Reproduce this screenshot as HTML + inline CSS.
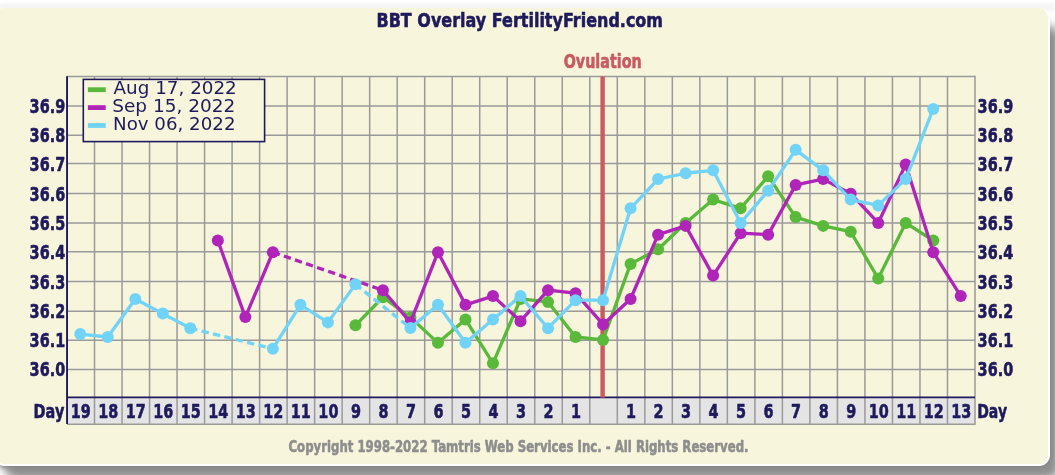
<!DOCTYPE html>
<html><head><meta charset="utf-8"><title>BBT Overlay FertilityFriend.com</title>
<style>
html,body{margin:0;padding:0;}
body{width:1055px;height:475px;overflow:hidden;position:relative;background:#ffffff;}
.topband{position:absolute;left:0;top:2.5px;width:1055px;height:8px;background:#f6f6f6;filter:blur(1px);}
.shadow{position:absolute;left:4px;top:25px;width:1056px;height:455px;border-radius:14px;background:#909090;filter:blur(5px);}
.shadow2{position:absolute;left:-6px;top:32px;width:1057px;height:435.5px;border-radius:12px;background:#868686;filter:blur(2px);}
.panel{position:absolute;box-sizing:border-box;left:-7px;top:7.8px;width:1057px;height:458.4px;border-radius:11px;background:#f7f5dc;border:2px solid #ffffff;border-top:0;}
</style></head>
<body>
<div class="topband"></div>
<div class="shadow"></div>
<div class="shadow2"></div>
<div class="panel"></div>
<svg width="1055" height="475" viewBox="0 0 1055 475" style="position:absolute;left:0;top:0">
<text x="376.5" y="26.6" font-family="DejaVu Sans, sans-serif" font-weight="bold" stroke-width="0.6" stroke-linejoin="round" font-size="19.8" fill="#1e1a5c" stroke="#1e1a5c" textLength="286.5" lengthAdjust="spacingAndGlyphs">BBT Overlay FertilityFriend.com</text>
<text x="563.7" y="68.1" font-family="DejaVu Sans, sans-serif" font-weight="bold" stroke-width="0.6" stroke-linejoin="round" font-size="19" fill="#c85a60" stroke="#c85a60" textLength="78" lengthAdjust="spacingAndGlyphs">Ovulation</text>
<line x1="94.52" y1="76.4" x2="94.52" y2="397.4" stroke="#9a9a9a" stroke-width="1.5"/>
<line x1="122.03" y1="76.4" x2="122.03" y2="397.4" stroke="#9a9a9a" stroke-width="1.5"/>
<line x1="149.55" y1="76.4" x2="149.55" y2="397.4" stroke="#9a9a9a" stroke-width="1.5"/>
<line x1="177.06" y1="76.4" x2="177.06" y2="397.4" stroke="#9a9a9a" stroke-width="1.5"/>
<line x1="204.58" y1="76.4" x2="204.58" y2="397.4" stroke="#9a9a9a" stroke-width="1.5"/>
<line x1="232.09" y1="76.4" x2="232.09" y2="397.4" stroke="#9a9a9a" stroke-width="1.5"/>
<line x1="259.61" y1="76.4" x2="259.61" y2="397.4" stroke="#9a9a9a" stroke-width="1.5"/>
<line x1="287.12" y1="76.4" x2="287.12" y2="397.4" stroke="#9a9a9a" stroke-width="1.5"/>
<line x1="314.64" y1="76.4" x2="314.64" y2="397.4" stroke="#9a9a9a" stroke-width="1.5"/>
<line x1="342.15" y1="76.4" x2="342.15" y2="397.4" stroke="#9a9a9a" stroke-width="1.5"/>
<line x1="369.67" y1="76.4" x2="369.67" y2="397.4" stroke="#9a9a9a" stroke-width="1.5"/>
<line x1="397.18" y1="76.4" x2="397.18" y2="397.4" stroke="#9a9a9a" stroke-width="1.5"/>
<line x1="424.70" y1="76.4" x2="424.70" y2="397.4" stroke="#9a9a9a" stroke-width="1.5"/>
<line x1="452.21" y1="76.4" x2="452.21" y2="397.4" stroke="#9a9a9a" stroke-width="1.5"/>
<line x1="479.73" y1="76.4" x2="479.73" y2="397.4" stroke="#9a9a9a" stroke-width="1.5"/>
<line x1="507.24" y1="76.4" x2="507.24" y2="397.4" stroke="#9a9a9a" stroke-width="1.5"/>
<line x1="534.76" y1="76.4" x2="534.76" y2="397.4" stroke="#9a9a9a" stroke-width="1.5"/>
<line x1="562.27" y1="76.4" x2="562.27" y2="397.4" stroke="#9a9a9a" stroke-width="1.5"/>
<line x1="589.79" y1="76.4" x2="589.79" y2="397.4" stroke="#9a9a9a" stroke-width="1.5"/>
<line x1="617.30" y1="76.4" x2="617.30" y2="397.4" stroke="#9a9a9a" stroke-width="1.5"/>
<line x1="644.82" y1="76.4" x2="644.82" y2="397.4" stroke="#9a9a9a" stroke-width="1.5"/>
<line x1="672.33" y1="76.4" x2="672.33" y2="397.4" stroke="#9a9a9a" stroke-width="1.5"/>
<line x1="699.85" y1="76.4" x2="699.85" y2="397.4" stroke="#9a9a9a" stroke-width="1.5"/>
<line x1="727.36" y1="76.4" x2="727.36" y2="397.4" stroke="#9a9a9a" stroke-width="1.5"/>
<line x1="754.88" y1="76.4" x2="754.88" y2="397.4" stroke="#9a9a9a" stroke-width="1.5"/>
<line x1="782.39" y1="76.4" x2="782.39" y2="397.4" stroke="#9a9a9a" stroke-width="1.5"/>
<line x1="809.91" y1="76.4" x2="809.91" y2="397.4" stroke="#9a9a9a" stroke-width="1.5"/>
<line x1="837.42" y1="76.4" x2="837.42" y2="397.4" stroke="#9a9a9a" stroke-width="1.5"/>
<line x1="864.94" y1="76.4" x2="864.94" y2="397.4" stroke="#9a9a9a" stroke-width="1.5"/>
<line x1="892.45" y1="76.4" x2="892.45" y2="397.4" stroke="#9a9a9a" stroke-width="1.5"/>
<line x1="919.97" y1="76.4" x2="919.97" y2="397.4" stroke="#9a9a9a" stroke-width="1.5"/>
<line x1="947.48" y1="76.4" x2="947.48" y2="397.4" stroke="#9a9a9a" stroke-width="1.5"/>
<line x1="67.0" y1="76.40" x2="975.0" y2="76.40" stroke="#9a9a9a" stroke-width="1.5"/>
<line x1="67.0" y1="105.90" x2="975.0" y2="105.90" stroke="#9a9a9a" stroke-width="1.5"/>
<line x1="67.0" y1="135.30" x2="975.0" y2="135.30" stroke="#9a9a9a" stroke-width="1.5"/>
<line x1="67.0" y1="163.60" x2="975.0" y2="163.60" stroke="#9a9a9a" stroke-width="1.5"/>
<line x1="67.0" y1="193.60" x2="975.0" y2="193.60" stroke="#9a9a9a" stroke-width="1.5"/>
<line x1="67.0" y1="223.05" x2="975.0" y2="223.05" stroke="#9a9a9a" stroke-width="1.5"/>
<line x1="67.0" y1="251.80" x2="975.0" y2="251.80" stroke="#9a9a9a" stroke-width="1.5"/>
<line x1="67.0" y1="281.50" x2="975.0" y2="281.50" stroke="#9a9a9a" stroke-width="1.5"/>
<line x1="67.0" y1="311.20" x2="975.0" y2="311.20" stroke="#9a9a9a" stroke-width="1.5"/>
<line x1="67.0" y1="340.30" x2="975.0" y2="340.30" stroke="#9a9a9a" stroke-width="1.5"/>
<line x1="67.0" y1="369.40" x2="975.0" y2="369.40" stroke="#9a9a9a" stroke-width="1.5"/>
<rect x="67.0" y="397.4" width="908.0" height="26.900000000000034" fill="#e4e4e4"/>
<line x1="94.52" y1="397.4" x2="94.52" y2="424.6" stroke="#9a9a9a" stroke-width="1.5"/>
<line x1="122.03" y1="397.4" x2="122.03" y2="424.6" stroke="#9a9a9a" stroke-width="1.5"/>
<line x1="149.55" y1="397.4" x2="149.55" y2="424.6" stroke="#9a9a9a" stroke-width="1.5"/>
<line x1="177.06" y1="397.4" x2="177.06" y2="424.6" stroke="#9a9a9a" stroke-width="1.5"/>
<line x1="204.58" y1="397.4" x2="204.58" y2="424.6" stroke="#9a9a9a" stroke-width="1.5"/>
<line x1="232.09" y1="397.4" x2="232.09" y2="424.6" stroke="#9a9a9a" stroke-width="1.5"/>
<line x1="259.61" y1="397.4" x2="259.61" y2="424.6" stroke="#9a9a9a" stroke-width="1.5"/>
<line x1="287.12" y1="397.4" x2="287.12" y2="424.6" stroke="#9a9a9a" stroke-width="1.5"/>
<line x1="314.64" y1="397.4" x2="314.64" y2="424.6" stroke="#9a9a9a" stroke-width="1.5"/>
<line x1="342.15" y1="397.4" x2="342.15" y2="424.6" stroke="#9a9a9a" stroke-width="1.5"/>
<line x1="369.67" y1="397.4" x2="369.67" y2="424.6" stroke="#9a9a9a" stroke-width="1.5"/>
<line x1="397.18" y1="397.4" x2="397.18" y2="424.6" stroke="#9a9a9a" stroke-width="1.5"/>
<line x1="424.70" y1="397.4" x2="424.70" y2="424.6" stroke="#9a9a9a" stroke-width="1.5"/>
<line x1="452.21" y1="397.4" x2="452.21" y2="424.6" stroke="#9a9a9a" stroke-width="1.5"/>
<line x1="479.73" y1="397.4" x2="479.73" y2="424.6" stroke="#9a9a9a" stroke-width="1.5"/>
<line x1="507.24" y1="397.4" x2="507.24" y2="424.6" stroke="#9a9a9a" stroke-width="1.5"/>
<line x1="534.76" y1="397.4" x2="534.76" y2="424.6" stroke="#9a9a9a" stroke-width="1.5"/>
<line x1="562.27" y1="397.4" x2="562.27" y2="424.6" stroke="#9a9a9a" stroke-width="1.5"/>
<line x1="589.79" y1="397.4" x2="589.79" y2="424.6" stroke="#9a9a9a" stroke-width="1.5"/>
<line x1="617.30" y1="397.4" x2="617.30" y2="424.6" stroke="#9a9a9a" stroke-width="1.5"/>
<line x1="644.82" y1="397.4" x2="644.82" y2="424.6" stroke="#9a9a9a" stroke-width="1.5"/>
<line x1="672.33" y1="397.4" x2="672.33" y2="424.6" stroke="#9a9a9a" stroke-width="1.5"/>
<line x1="699.85" y1="397.4" x2="699.85" y2="424.6" stroke="#9a9a9a" stroke-width="1.5"/>
<line x1="727.36" y1="397.4" x2="727.36" y2="424.6" stroke="#9a9a9a" stroke-width="1.5"/>
<line x1="754.88" y1="397.4" x2="754.88" y2="424.6" stroke="#9a9a9a" stroke-width="1.5"/>
<line x1="782.39" y1="397.4" x2="782.39" y2="424.6" stroke="#9a9a9a" stroke-width="1.5"/>
<line x1="809.91" y1="397.4" x2="809.91" y2="424.6" stroke="#9a9a9a" stroke-width="1.5"/>
<line x1="837.42" y1="397.4" x2="837.42" y2="424.6" stroke="#9a9a9a" stroke-width="1.5"/>
<line x1="864.94" y1="397.4" x2="864.94" y2="424.6" stroke="#9a9a9a" stroke-width="1.5"/>
<line x1="892.45" y1="397.4" x2="892.45" y2="424.6" stroke="#9a9a9a" stroke-width="1.5"/>
<line x1="919.97" y1="397.4" x2="919.97" y2="424.6" stroke="#9a9a9a" stroke-width="1.5"/>
<line x1="947.48" y1="397.4" x2="947.48" y2="424.6" stroke="#9a9a9a" stroke-width="1.5"/>
<line x1="67.0" y1="424.3" x2="975.0" y2="424.3" stroke="#9a9a9a" stroke-width="1.4"/>
<line x1="975.0" y1="75.7" x2="975.0" y2="425" stroke="#9a9a9a" stroke-width="1.5"/>
<line x1="67.0" y1="397.4" x2="975.0" y2="397.4" stroke="#1e1a5c" stroke-width="1.6"/>
<line x1="67.05" y1="76.2" x2="67.05" y2="423.9" stroke="#1e1a5c" stroke-width="1.9"/>
<text x="80.76" y="417.7" text-anchor="middle" font-family="DejaVu Sans, sans-serif" font-weight="bold" stroke-width="0.6" stroke-linejoin="round" font-size="19.5" fill="#1e1a5c" stroke="#1e1a5c" transform-origin="80.76 417.7" transform="scale(0.74,1)">19</text>
<text x="108.27" y="417.7" text-anchor="middle" font-family="DejaVu Sans, sans-serif" font-weight="bold" stroke-width="0.6" stroke-linejoin="round" font-size="19.5" fill="#1e1a5c" stroke="#1e1a5c" transform-origin="108.27 417.7" transform="scale(0.74,1)">18</text>
<text x="135.79" y="417.7" text-anchor="middle" font-family="DejaVu Sans, sans-serif" font-weight="bold" stroke-width="0.6" stroke-linejoin="round" font-size="19.5" fill="#1e1a5c" stroke="#1e1a5c" transform-origin="135.79 417.7" transform="scale(0.74,1)">17</text>
<text x="163.30" y="417.7" text-anchor="middle" font-family="DejaVu Sans, sans-serif" font-weight="bold" stroke-width="0.6" stroke-linejoin="round" font-size="19.5" fill="#1e1a5c" stroke="#1e1a5c" transform-origin="163.30 417.7" transform="scale(0.74,1)">16</text>
<text x="190.82" y="417.7" text-anchor="middle" font-family="DejaVu Sans, sans-serif" font-weight="bold" stroke-width="0.6" stroke-linejoin="round" font-size="19.5" fill="#1e1a5c" stroke="#1e1a5c" transform-origin="190.82 417.7" transform="scale(0.74,1)">15</text>
<text x="218.33" y="417.7" text-anchor="middle" font-family="DejaVu Sans, sans-serif" font-weight="bold" stroke-width="0.6" stroke-linejoin="round" font-size="19.5" fill="#1e1a5c" stroke="#1e1a5c" transform-origin="218.33 417.7" transform="scale(0.74,1)">14</text>
<text x="245.85" y="417.7" text-anchor="middle" font-family="DejaVu Sans, sans-serif" font-weight="bold" stroke-width="0.6" stroke-linejoin="round" font-size="19.5" fill="#1e1a5c" stroke="#1e1a5c" transform-origin="245.85 417.7" transform="scale(0.74,1)">13</text>
<text x="273.36" y="417.7" text-anchor="middle" font-family="DejaVu Sans, sans-serif" font-weight="bold" stroke-width="0.6" stroke-linejoin="round" font-size="19.5" fill="#1e1a5c" stroke="#1e1a5c" transform-origin="273.36 417.7" transform="scale(0.74,1)">12</text>
<text x="300.88" y="417.7" text-anchor="middle" font-family="DejaVu Sans, sans-serif" font-weight="bold" stroke-width="0.6" stroke-linejoin="round" font-size="19.5" fill="#1e1a5c" stroke="#1e1a5c" transform-origin="300.88 417.7" transform="scale(0.74,1)">11</text>
<text x="328.39" y="417.7" text-anchor="middle" font-family="DejaVu Sans, sans-serif" font-weight="bold" stroke-width="0.6" stroke-linejoin="round" font-size="19.5" fill="#1e1a5c" stroke="#1e1a5c" transform-origin="328.39 417.7" transform="scale(0.74,1)">10</text>
<text x="355.91" y="417.7" text-anchor="middle" font-family="DejaVu Sans, sans-serif" font-weight="bold" stroke-width="0.6" stroke-linejoin="round" font-size="19.5" fill="#1e1a5c" stroke="#1e1a5c" transform-origin="355.91 417.7" transform="scale(0.74,1)">9</text>
<text x="383.42" y="417.7" text-anchor="middle" font-family="DejaVu Sans, sans-serif" font-weight="bold" stroke-width="0.6" stroke-linejoin="round" font-size="19.5" fill="#1e1a5c" stroke="#1e1a5c" transform-origin="383.42 417.7" transform="scale(0.74,1)">8</text>
<text x="410.94" y="417.7" text-anchor="middle" font-family="DejaVu Sans, sans-serif" font-weight="bold" stroke-width="0.6" stroke-linejoin="round" font-size="19.5" fill="#1e1a5c" stroke="#1e1a5c" transform-origin="410.94 417.7" transform="scale(0.74,1)">7</text>
<text x="438.45" y="417.7" text-anchor="middle" font-family="DejaVu Sans, sans-serif" font-weight="bold" stroke-width="0.6" stroke-linejoin="round" font-size="19.5" fill="#1e1a5c" stroke="#1e1a5c" transform-origin="438.45 417.7" transform="scale(0.74,1)">6</text>
<text x="465.97" y="417.7" text-anchor="middle" font-family="DejaVu Sans, sans-serif" font-weight="bold" stroke-width="0.6" stroke-linejoin="round" font-size="19.5" fill="#1e1a5c" stroke="#1e1a5c" transform-origin="465.97 417.7" transform="scale(0.74,1)">5</text>
<text x="493.48" y="417.7" text-anchor="middle" font-family="DejaVu Sans, sans-serif" font-weight="bold" stroke-width="0.6" stroke-linejoin="round" font-size="19.5" fill="#1e1a5c" stroke="#1e1a5c" transform-origin="493.48 417.7" transform="scale(0.74,1)">4</text>
<text x="521.00" y="417.7" text-anchor="middle" font-family="DejaVu Sans, sans-serif" font-weight="bold" stroke-width="0.6" stroke-linejoin="round" font-size="19.5" fill="#1e1a5c" stroke="#1e1a5c" transform-origin="521.00 417.7" transform="scale(0.74,1)">3</text>
<text x="548.52" y="417.7" text-anchor="middle" font-family="DejaVu Sans, sans-serif" font-weight="bold" stroke-width="0.6" stroke-linejoin="round" font-size="19.5" fill="#1e1a5c" stroke="#1e1a5c" transform-origin="548.52 417.7" transform="scale(0.74,1)">2</text>
<text x="576.03" y="417.7" text-anchor="middle" font-family="DejaVu Sans, sans-serif" font-weight="bold" stroke-width="0.6" stroke-linejoin="round" font-size="19.5" fill="#1e1a5c" stroke="#1e1a5c" transform-origin="576.03 417.7" transform="scale(0.74,1)">1</text>
<text x="631.06" y="417.7" text-anchor="middle" font-family="DejaVu Sans, sans-serif" font-weight="bold" stroke-width="0.6" stroke-linejoin="round" font-size="19.5" fill="#1e1a5c" stroke="#1e1a5c" transform-origin="631.06 417.7" transform="scale(0.74,1)">1</text>
<text x="658.58" y="417.7" text-anchor="middle" font-family="DejaVu Sans, sans-serif" font-weight="bold" stroke-width="0.6" stroke-linejoin="round" font-size="19.5" fill="#1e1a5c" stroke="#1e1a5c" transform-origin="658.58 417.7" transform="scale(0.74,1)">2</text>
<text x="686.09" y="417.7" text-anchor="middle" font-family="DejaVu Sans, sans-serif" font-weight="bold" stroke-width="0.6" stroke-linejoin="round" font-size="19.5" fill="#1e1a5c" stroke="#1e1a5c" transform-origin="686.09 417.7" transform="scale(0.74,1)">3</text>
<text x="713.61" y="417.7" text-anchor="middle" font-family="DejaVu Sans, sans-serif" font-weight="bold" stroke-width="0.6" stroke-linejoin="round" font-size="19.5" fill="#1e1a5c" stroke="#1e1a5c" transform-origin="713.61 417.7" transform="scale(0.74,1)">4</text>
<text x="741.12" y="417.7" text-anchor="middle" font-family="DejaVu Sans, sans-serif" font-weight="bold" stroke-width="0.6" stroke-linejoin="round" font-size="19.5" fill="#1e1a5c" stroke="#1e1a5c" transform-origin="741.12 417.7" transform="scale(0.74,1)">5</text>
<text x="768.64" y="417.7" text-anchor="middle" font-family="DejaVu Sans, sans-serif" font-weight="bold" stroke-width="0.6" stroke-linejoin="round" font-size="19.5" fill="#1e1a5c" stroke="#1e1a5c" transform-origin="768.64 417.7" transform="scale(0.74,1)">6</text>
<text x="796.15" y="417.7" text-anchor="middle" font-family="DejaVu Sans, sans-serif" font-weight="bold" stroke-width="0.6" stroke-linejoin="round" font-size="19.5" fill="#1e1a5c" stroke="#1e1a5c" transform-origin="796.15 417.7" transform="scale(0.74,1)">7</text>
<text x="823.67" y="417.7" text-anchor="middle" font-family="DejaVu Sans, sans-serif" font-weight="bold" stroke-width="0.6" stroke-linejoin="round" font-size="19.5" fill="#1e1a5c" stroke="#1e1a5c" transform-origin="823.67 417.7" transform="scale(0.74,1)">8</text>
<text x="851.18" y="417.7" text-anchor="middle" font-family="DejaVu Sans, sans-serif" font-weight="bold" stroke-width="0.6" stroke-linejoin="round" font-size="19.5" fill="#1e1a5c" stroke="#1e1a5c" transform-origin="851.18 417.7" transform="scale(0.74,1)">9</text>
<text x="878.70" y="417.7" text-anchor="middle" font-family="DejaVu Sans, sans-serif" font-weight="bold" stroke-width="0.6" stroke-linejoin="round" font-size="19.5" fill="#1e1a5c" stroke="#1e1a5c" transform-origin="878.70 417.7" transform="scale(0.74,1)">10</text>
<text x="906.21" y="417.7" text-anchor="middle" font-family="DejaVu Sans, sans-serif" font-weight="bold" stroke-width="0.6" stroke-linejoin="round" font-size="19.5" fill="#1e1a5c" stroke="#1e1a5c" transform-origin="906.21 417.7" transform="scale(0.74,1)">11</text>
<text x="933.73" y="417.7" text-anchor="middle" font-family="DejaVu Sans, sans-serif" font-weight="bold" stroke-width="0.6" stroke-linejoin="round" font-size="19.5" fill="#1e1a5c" stroke="#1e1a5c" transform-origin="933.73 417.7" transform="scale(0.74,1)">12</text>
<text x="961.24" y="417.7" text-anchor="middle" font-family="DejaVu Sans, sans-serif" font-weight="bold" stroke-width="0.6" stroke-linejoin="round" font-size="19.5" fill="#1e1a5c" stroke="#1e1a5c" transform-origin="961.24 417.7" transform="scale(0.74,1)">13</text>
<line x1="602.6" y1="76.4" x2="602.6" y2="397.4" stroke="#c85a60" stroke-width="4.4"/>
<rect x="83.3" y="79.4" width="181.3" height="62.2" fill="#f7f5dc" stroke="#1e1a5c" stroke-width="1.6"/>
<rect x="87.9" y="87.30" width="17.8" height="4.8" fill="#58b93a"/>
<text x="113.5" y="93.9" font-family="DejaVu Sans, sans-serif" font-size="17.5" fill="#1e1a5c" textLength="123.3" lengthAdjust="spacingAndGlyphs">Aug 17, 2022</text>
<rect x="87.9" y="105.20" width="17.8" height="4.8" fill="#b024b9"/>
<text x="112.2" y="112.0" font-family="DejaVu Sans, sans-serif" font-size="17.5" fill="#1e1a5c" textLength="123.0" lengthAdjust="spacingAndGlyphs">Sep 15, 2022</text>
<rect x="87.9" y="123.10" width="17.8" height="4.8" fill="#72d3f8"/>
<text x="113.0" y="129.6" font-family="DejaVu Sans, sans-serif" font-size="17.5" fill="#1e1a5c" textLength="122.5" lengthAdjust="spacingAndGlyphs">Nov 06, 2022</text>
<polyline points="355.41,325.30 382.92,297.23 410.44,317.41 437.95,342.84 465.47,319.45 492.98,363.31 520.50,298.98 548.02,301.91 575.53,337.00 603.05,339.92 630.56,263.90 658.08,249.28 685.59,222.96 713.11,199.57 740.62,208.34 768.14,176.18 795.65,217.11 823.17,225.88 850.68,231.73 878.20,278.52 905.71,222.96 933.23,240.50" fill="none" stroke="#58b93a" stroke-width="3.3" stroke-linejoin="round" stroke-linecap="round"/>
<circle cx="355.41" cy="325.30" r="6.0" fill="#58b93a"/>
<circle cx="382.92" cy="297.23" r="6.0" fill="#58b93a"/>
<circle cx="410.44" cy="317.41" r="6.0" fill="#58b93a"/>
<circle cx="437.95" cy="342.84" r="6.0" fill="#58b93a"/>
<circle cx="465.47" cy="319.45" r="6.0" fill="#58b93a"/>
<circle cx="492.98" cy="363.31" r="6.0" fill="#58b93a"/>
<circle cx="520.50" cy="298.98" r="6.0" fill="#58b93a"/>
<circle cx="548.02" cy="301.91" r="6.0" fill="#58b93a"/>
<circle cx="575.53" cy="337.00" r="6.0" fill="#58b93a"/>
<circle cx="603.05" cy="339.92" r="6.0" fill="#58b93a"/>
<circle cx="630.56" cy="263.90" r="6.0" fill="#58b93a"/>
<circle cx="658.08" cy="249.28" r="6.0" fill="#58b93a"/>
<circle cx="685.59" cy="222.96" r="6.0" fill="#58b93a"/>
<circle cx="713.11" cy="199.57" r="6.0" fill="#58b93a"/>
<circle cx="740.62" cy="208.34" r="6.0" fill="#58b93a"/>
<circle cx="768.14" cy="176.18" r="6.0" fill="#58b93a"/>
<circle cx="795.65" cy="217.11" r="6.0" fill="#58b93a"/>
<circle cx="823.17" cy="225.88" r="6.0" fill="#58b93a"/>
<circle cx="850.68" cy="231.73" r="6.0" fill="#58b93a"/>
<circle cx="878.20" cy="278.52" r="6.0" fill="#58b93a"/>
<circle cx="905.71" cy="222.96" r="6.0" fill="#58b93a"/>
<circle cx="933.23" cy="240.50" r="6.0" fill="#58b93a"/>
<polyline points="217.83,240.50 245.35,317.11 272.86,252.20" fill="none" stroke="#b024b9" stroke-width="3.3" stroke-linejoin="round" stroke-linecap="round"/>
<polyline points="382.92,290.21 410.44,322.38 437.95,252.20 465.47,304.83 492.98,296.06 520.50,321.21 548.02,290.21 575.53,293.14 603.05,324.42 630.56,298.98 658.08,234.66 685.59,225.88 713.11,275.59 740.62,233.19 768.14,234.66 795.65,184.95 823.17,179.10 850.68,193.72 878.20,222.96 905.71,164.48 933.23,252.20 960.74,296.06" fill="none" stroke="#b024b9" stroke-width="3.3" stroke-linejoin="round" stroke-linecap="round"/>
<line x1="272.86" y1="252.20" x2="382.92" y2="290.21" stroke="#b024b9" stroke-width="3.3" stroke-dasharray="7.3,4.4"/>
<circle cx="217.83" cy="240.50" r="6.0" fill="#b024b9"/>
<circle cx="245.35" cy="317.11" r="6.0" fill="#b024b9"/>
<circle cx="272.86" cy="252.20" r="6.0" fill="#b024b9"/>
<circle cx="382.92" cy="290.21" r="6.0" fill="#b024b9"/>
<circle cx="410.44" cy="322.38" r="6.0" fill="#b024b9"/>
<circle cx="437.95" cy="252.20" r="6.0" fill="#b024b9"/>
<circle cx="465.47" cy="304.83" r="6.0" fill="#b024b9"/>
<circle cx="492.98" cy="296.06" r="6.0" fill="#b024b9"/>
<circle cx="520.50" cy="321.21" r="6.0" fill="#b024b9"/>
<circle cx="548.02" cy="290.21" r="6.0" fill="#b024b9"/>
<circle cx="575.53" cy="293.14" r="6.0" fill="#b024b9"/>
<circle cx="603.05" cy="324.42" r="6.0" fill="#b024b9"/>
<circle cx="630.56" cy="298.98" r="6.0" fill="#b024b9"/>
<circle cx="658.08" cy="234.66" r="6.0" fill="#b024b9"/>
<circle cx="685.59" cy="225.88" r="6.0" fill="#b024b9"/>
<circle cx="713.11" cy="275.59" r="6.0" fill="#b024b9"/>
<circle cx="740.62" cy="233.19" r="6.0" fill="#b024b9"/>
<circle cx="768.14" cy="234.66" r="6.0" fill="#b024b9"/>
<circle cx="795.65" cy="184.95" r="6.0" fill="#b024b9"/>
<circle cx="823.17" cy="179.10" r="6.0" fill="#b024b9"/>
<circle cx="850.68" cy="193.72" r="6.0" fill="#b024b9"/>
<circle cx="878.20" cy="222.96" r="6.0" fill="#b024b9"/>
<circle cx="905.71" cy="164.48" r="6.0" fill="#b024b9"/>
<circle cx="933.23" cy="252.20" r="6.0" fill="#b024b9"/>
<circle cx="960.74" cy="296.06" r="6.0" fill="#b024b9"/>
<polyline points="80.26,334.07 107.77,337.00 135.29,298.98 162.80,313.60 190.32,328.22" fill="none" stroke="#72d3f8" stroke-width="3.3" stroke-linejoin="round" stroke-linecap="round"/>
<polyline points="272.86,348.69 300.38,304.83 327.89,322.38 355.41,284.36" fill="none" stroke="#72d3f8" stroke-width="3.3" stroke-linejoin="round" stroke-linecap="round"/>
<polyline points="410.44,327.93 437.95,304.83 465.47,342.84 492.98,319.45 520.50,296.06 548.02,328.22 575.53,300.15 603.05,300.15 630.56,208.34 658.08,179.10 685.59,173.25 713.11,170.33 740.62,222.96 768.14,190.80 795.65,149.86 823.17,170.33 850.68,199.57 878.20,205.42 905.71,179.10 933.23,108.92" fill="none" stroke="#72d3f8" stroke-width="3.3" stroke-linejoin="round" stroke-linecap="round"/>
<line x1="190.32" y1="328.22" x2="272.86" y2="348.69" stroke="#72d3f8" stroke-width="3.3" stroke-dasharray="7.3,4.4"/>
<line x1="355.41" y1="284.36" x2="410.44" y2="327.93" stroke="#72d3f8" stroke-width="3.3" stroke-dasharray="7.3,4.4"/>
<circle cx="80.26" cy="334.07" r="6.0" fill="#72d3f8"/>
<circle cx="107.77" cy="337.00" r="6.0" fill="#72d3f8"/>
<circle cx="135.29" cy="298.98" r="6.0" fill="#72d3f8"/>
<circle cx="162.80" cy="313.60" r="6.0" fill="#72d3f8"/>
<circle cx="190.32" cy="328.22" r="6.0" fill="#72d3f8"/>
<circle cx="272.86" cy="348.69" r="6.0" fill="#72d3f8"/>
<circle cx="300.38" cy="304.83" r="6.0" fill="#72d3f8"/>
<circle cx="327.89" cy="322.38" r="6.0" fill="#72d3f8"/>
<circle cx="355.41" cy="284.36" r="6.0" fill="#72d3f8"/>
<circle cx="410.44" cy="327.93" r="6.0" fill="#72d3f8"/>
<circle cx="437.95" cy="304.83" r="6.0" fill="#72d3f8"/>
<circle cx="465.47" cy="342.84" r="6.0" fill="#72d3f8"/>
<circle cx="492.98" cy="319.45" r="6.0" fill="#72d3f8"/>
<circle cx="520.50" cy="296.06" r="6.0" fill="#72d3f8"/>
<circle cx="548.02" cy="328.22" r="6.0" fill="#72d3f8"/>
<circle cx="575.53" cy="300.15" r="6.0" fill="#72d3f8"/>
<circle cx="603.05" cy="300.15" r="6.0" fill="#72d3f8"/>
<circle cx="630.56" cy="208.34" r="6.0" fill="#72d3f8"/>
<circle cx="658.08" cy="179.10" r="6.0" fill="#72d3f8"/>
<circle cx="685.59" cy="173.25" r="6.0" fill="#72d3f8"/>
<circle cx="713.11" cy="170.33" r="6.0" fill="#72d3f8"/>
<circle cx="740.62" cy="222.96" r="6.0" fill="#72d3f8"/>
<circle cx="768.14" cy="190.80" r="6.0" fill="#72d3f8"/>
<circle cx="795.65" cy="149.86" r="6.0" fill="#72d3f8"/>
<circle cx="823.17" cy="170.33" r="6.0" fill="#72d3f8"/>
<circle cx="850.68" cy="199.57" r="6.0" fill="#72d3f8"/>
<circle cx="878.20" cy="205.42" r="6.0" fill="#72d3f8"/>
<circle cx="905.71" cy="179.10" r="6.0" fill="#72d3f8"/>
<circle cx="933.23" cy="108.92" r="6.0" fill="#72d3f8"/>
<text x="65.2" y="113.00" text-anchor="end" font-family="DejaVu Sans, sans-serif" font-weight="bold" stroke-width="0.6" stroke-linejoin="round" font-size="19.5" fill="#1e1a5c" stroke="#1e1a5c" transform-origin="65.2 113.00" transform="scale(0.74,1)">36.9</text>
<text x="977.6" y="113.00" font-family="DejaVu Sans, sans-serif" font-weight="bold" stroke-width="0.6" stroke-linejoin="round" font-size="19.5" fill="#1e1a5c" stroke="#1e1a5c" transform-origin="977.6 113.00" transform="scale(0.74,1)">36.9</text>
<text x="65.2" y="142.40" text-anchor="end" font-family="DejaVu Sans, sans-serif" font-weight="bold" stroke-width="0.6" stroke-linejoin="round" font-size="19.5" fill="#1e1a5c" stroke="#1e1a5c" transform-origin="65.2 142.40" transform="scale(0.74,1)">36.8</text>
<text x="977.6" y="142.40" font-family="DejaVu Sans, sans-serif" font-weight="bold" stroke-width="0.6" stroke-linejoin="round" font-size="19.5" fill="#1e1a5c" stroke="#1e1a5c" transform-origin="977.6 142.40" transform="scale(0.74,1)">36.8</text>
<text x="65.2" y="170.70" text-anchor="end" font-family="DejaVu Sans, sans-serif" font-weight="bold" stroke-width="0.6" stroke-linejoin="round" font-size="19.5" fill="#1e1a5c" stroke="#1e1a5c" transform-origin="65.2 170.70" transform="scale(0.74,1)">36.7</text>
<text x="977.6" y="170.70" font-family="DejaVu Sans, sans-serif" font-weight="bold" stroke-width="0.6" stroke-linejoin="round" font-size="19.5" fill="#1e1a5c" stroke="#1e1a5c" transform-origin="977.6 170.70" transform="scale(0.74,1)">36.7</text>
<text x="65.2" y="200.70" text-anchor="end" font-family="DejaVu Sans, sans-serif" font-weight="bold" stroke-width="0.6" stroke-linejoin="round" font-size="19.5" fill="#1e1a5c" stroke="#1e1a5c" transform-origin="65.2 200.70" transform="scale(0.74,1)">36.6</text>
<text x="977.6" y="200.70" font-family="DejaVu Sans, sans-serif" font-weight="bold" stroke-width="0.6" stroke-linejoin="round" font-size="19.5" fill="#1e1a5c" stroke="#1e1a5c" transform-origin="977.6 200.70" transform="scale(0.74,1)">36.6</text>
<text x="65.2" y="230.15" text-anchor="end" font-family="DejaVu Sans, sans-serif" font-weight="bold" stroke-width="0.6" stroke-linejoin="round" font-size="19.5" fill="#1e1a5c" stroke="#1e1a5c" transform-origin="65.2 230.15" transform="scale(0.74,1)">36.5</text>
<text x="977.6" y="230.15" font-family="DejaVu Sans, sans-serif" font-weight="bold" stroke-width="0.6" stroke-linejoin="round" font-size="19.5" fill="#1e1a5c" stroke="#1e1a5c" transform-origin="977.6 230.15" transform="scale(0.74,1)">36.5</text>
<text x="65.2" y="258.90" text-anchor="end" font-family="DejaVu Sans, sans-serif" font-weight="bold" stroke-width="0.6" stroke-linejoin="round" font-size="19.5" fill="#1e1a5c" stroke="#1e1a5c" transform-origin="65.2 258.90" transform="scale(0.74,1)">36.4</text>
<text x="977.6" y="258.90" font-family="DejaVu Sans, sans-serif" font-weight="bold" stroke-width="0.6" stroke-linejoin="round" font-size="19.5" fill="#1e1a5c" stroke="#1e1a5c" transform-origin="977.6 258.90" transform="scale(0.74,1)">36.4</text>
<text x="65.2" y="288.60" text-anchor="end" font-family="DejaVu Sans, sans-serif" font-weight="bold" stroke-width="0.6" stroke-linejoin="round" font-size="19.5" fill="#1e1a5c" stroke="#1e1a5c" transform-origin="65.2 288.60" transform="scale(0.74,1)">36.3</text>
<text x="977.6" y="288.60" font-family="DejaVu Sans, sans-serif" font-weight="bold" stroke-width="0.6" stroke-linejoin="round" font-size="19.5" fill="#1e1a5c" stroke="#1e1a5c" transform-origin="977.6 288.60" transform="scale(0.74,1)">36.3</text>
<text x="65.2" y="318.30" text-anchor="end" font-family="DejaVu Sans, sans-serif" font-weight="bold" stroke-width="0.6" stroke-linejoin="round" font-size="19.5" fill="#1e1a5c" stroke="#1e1a5c" transform-origin="65.2 318.30" transform="scale(0.74,1)">36.2</text>
<text x="977.6" y="318.30" font-family="DejaVu Sans, sans-serif" font-weight="bold" stroke-width="0.6" stroke-linejoin="round" font-size="19.5" fill="#1e1a5c" stroke="#1e1a5c" transform-origin="977.6 318.30" transform="scale(0.74,1)">36.2</text>
<text x="65.2" y="347.40" text-anchor="end" font-family="DejaVu Sans, sans-serif" font-weight="bold" stroke-width="0.6" stroke-linejoin="round" font-size="19.5" fill="#1e1a5c" stroke="#1e1a5c" transform-origin="65.2 347.40" transform="scale(0.74,1)">36.1</text>
<text x="977.6" y="347.40" font-family="DejaVu Sans, sans-serif" font-weight="bold" stroke-width="0.6" stroke-linejoin="round" font-size="19.5" fill="#1e1a5c" stroke="#1e1a5c" transform-origin="977.6 347.40" transform="scale(0.74,1)">36.1</text>
<text x="65.2" y="376.50" text-anchor="end" font-family="DejaVu Sans, sans-serif" font-weight="bold" stroke-width="0.6" stroke-linejoin="round" font-size="19.5" fill="#1e1a5c" stroke="#1e1a5c" transform-origin="65.2 376.50" transform="scale(0.74,1)">36.0</text>
<text x="977.6" y="376.50" font-family="DejaVu Sans, sans-serif" font-weight="bold" stroke-width="0.6" stroke-linejoin="round" font-size="19.5" fill="#1e1a5c" stroke="#1e1a5c" transform-origin="977.6 376.50" transform="scale(0.74,1)">36.0</text>
<text x="64.3" y="417.7" text-anchor="end" font-family="DejaVu Sans, sans-serif" font-weight="bold" stroke-width="0.6" stroke-linejoin="round" font-size="19.5" fill="#1e1a5c" stroke="#1e1a5c" transform-origin="64.3 417.7" transform="scale(0.74,1)">Day</text>
<text x="977.2" y="417.7" font-family="DejaVu Sans, sans-serif" font-weight="bold" stroke-width="0.6" stroke-linejoin="round" font-size="19.5" fill="#1e1a5c" stroke="#1e1a5c" transform-origin="977.2 417.7" transform="scale(0.72,1)">Day</text>
<text x="288.5" y="451.8" font-family="DejaVu Sans, sans-serif" font-weight="bold" stroke-width="0.6" stroke-linejoin="round" font-size="15" fill="#8e8e8e" stroke="#8e8e8e" textLength="460" lengthAdjust="spacingAndGlyphs">Copyright 1998-2022 Tamtris Web Services Inc. - All Rights Reserved.</text>
</svg>
</body></html>
